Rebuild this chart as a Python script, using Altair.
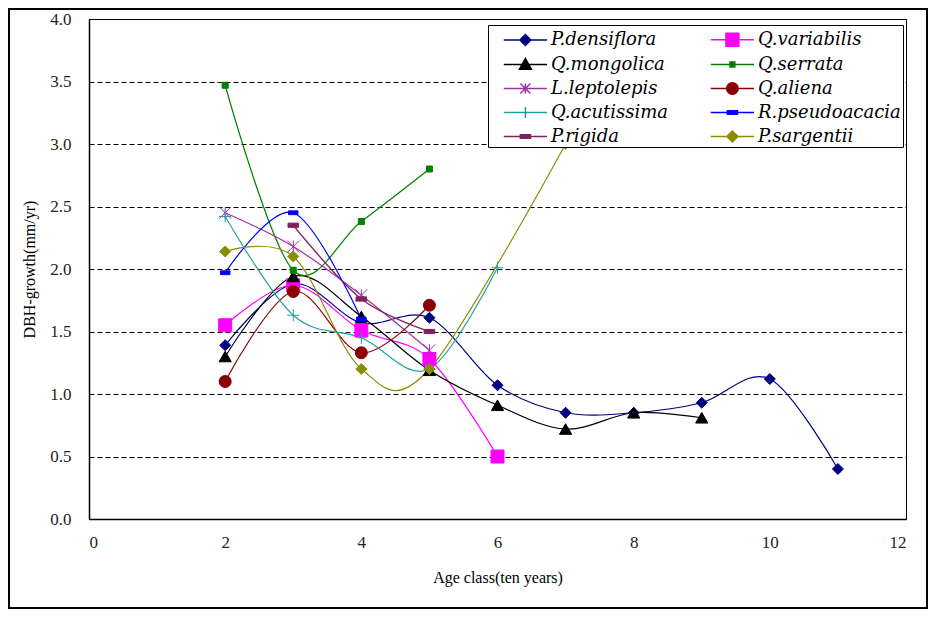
import json
import altair as alt
import pandas as pd

# ---------------- data ----------------
species = ["P.densiflora", "Q.variabilis", "Q.mongolica", "Q.serrata", "L.leptolepis",
           "Q.aliena", "Q.acutissima", "R.pseudoacacia", "P.rigida", "P.sargentii"]

p_densiflora_x = [2, 3, 4, 5, 6, 7, 8, 9, 10, 11]
p_densiflora_y = [1.39, 1.88, 1.57, 1.61, 1.07, 0.85, 0.85, 0.93, 1.12, 0.40]
q_variabilis_x = [2, 3, 4, 5, 6]
q_variabilis_y = [1.55, 1.87, 1.51, 1.28, 0.50]
q_mongolica_x = [2, 3, 4, 5, 6, 7, 8, 9]
q_mongolica_y = [1.30, 1.94, 1.62, 1.19, 0.91, 0.72, 0.85, 0.81]
q_serrata_x = [2, 3, 4, 5]
q_serrata_y = [3.47, 1.99, 2.38, 2.80]
l_leptolepis_x = [2, 3, 4, 5]
l_leptolepis_y = [2.45, 2.18, 1.79, 1.35]
q_aliena_x = [2, 3, 4, 5]
q_aliena_y = [1.10, 1.82, 1.33, 1.71]
q_acutissima_x = [2, 3, 4, 5, 6]
q_acutissima_y = [2.42, 1.63, 1.45, 1.20, 2.01]
r_pseudoacacia_x = [2, 3, 4]
r_pseudoacacia_y = [1.97, 2.45, 1.60]
p_rigida_x = [3, 4, 5]
p_rigida_y = [2.35, 1.76, 1.50]
p_sargentii_x = [2, 3, 4, 5, 7]
p_sargentii_y = [2.14, 2.10, 1.20, 1.20, 3.00]

x_ticks = [0, 2, 4, 6, 8, 10, 12]
y_ticks = [0.0, 0.5, 1.0, 1.5, 2.0, 2.5, 3.0, 3.5, 4.0]

series_xy = [
    (p_densiflora_x, p_densiflora_y), (q_variabilis_x, q_variabilis_y),
    (q_mongolica_x, q_mongolica_y), (q_serrata_x, q_serrata_y),
    (l_leptolepis_x, l_leptolepis_y), (q_aliena_x, q_aliena_y),
    (q_acutissima_x, q_acutissima_y), (r_pseudoacacia_x, r_pseudoacacia_y),
    (p_rigida_x, p_rigida_y), (p_sargentii_x, p_sargentii_y),
]

rows = []
for name, (xs, ys) in zip(species, series_xy):
    for xv, yv in zip(xs, ys):
        rows.append({"species": name, "age": xv, "growth": yv})
df = pd.DataFrame(rows)

# ---------------- styles ----------------
colors = ["#000080", "#FF00FF", "#000000", "#008000", "#A030A0",
          "#8B0000", "#20A0A0", "#0000FF", "#802060", "#8C8C00"]

ASTER = "M-1,-1L1,1M-1,1L1,-1M0,-1L0,1"
PLUS = "M-1,0L1,0M0,-1L0,1"
DASH = "M-1,-0.4L1,-0.4L1,0.4L-1,0.4Z"
plot_shapes = ["diamond", "square", "triangle-up", "square", ASTER,
               "circle", PLUS, DASH, DASH, "diamond"]
plot_sizes = [121, 169, 150, 36, 144, 144, 144, 90, 110, 121]
size_expr = json.dumps(dict(zip(species, plot_sizes))) + "[datum.species]"

# legend symbols: line segment + marker (unit = 12px)
L0, L1 = -2.6, 1.0
cx = (L0 + L1) / 2
LINE = f"M{L0},0L{L1},0"


def diamond(h):
    return f"M{cx-h:.3f},0L{cx:.3f},{-h}L{cx+h:.3f},0L{cx:.3f},{h}Z"


def square(h):
    return f"M{cx-h:.3f},{-h}L{cx+h:.3f},{-h}L{cx+h:.3f},{h}L{cx-h:.3f},{h}Z"


def triangle(h):
    return f"M{cx:.3f},{-h}L{cx+h:.3f},{h*0.8:.3f}L{cx-h:.3f},{h*0.8:.3f}Z"


def circle(r):
    return (f"M{cx-r:.3f},0A{r},{r} 0 1,0 {cx+r:.3f},0"
            f"A{r},{r} 0 1,0 {cx-r:.3f},0Z")


def aster(h):
    return (f"M{cx-h:.3f},{-h}L{cx+h:.3f},{h}M{cx-h:.3f},{h}L{cx+h:.3f},{-h}"
            f"M{cx:.3f},{-h}L{cx:.3f},{h}")


def plus(h):
    return f"M{cx-h:.3f},0L{cx+h:.3f},0M{cx:.3f},{-h}L{cx:.3f},{h}"


def dash(w, h):
    return f"M{cx-w:.3f},{-h}L{cx+w:.3f},{-h}L{cx+w:.3f},{h}L{cx-w:.3f},{h}Z"


legend_shapes = [LINE + p for p in [
    diamond(0.46), square(0.54), triangle(0.5), square(0.2), aster(0.42),
    circle(0.48), plus(0.46), dash(0.42, 0.15), dash(0.42, 0.15), diamond(0.46)]]

SERIF = "Liberation Serif"

base = alt.Chart(df)

x_enc = alt.X("age:Q", scale=alt.Scale(domain=[0, 12], nice=False),
              axis=alt.Axis(values=x_ticks, title="Age class(ten years)", grid=False,
                            ticks=False, labelPadding=15, titlePadding=19, format="d"))
y_enc = alt.Y("growth:Q", scale=alt.Scale(domain=[0, 4], nice=False),
              axis=alt.Axis(values=y_ticks, title="DBH-growth(mm/yr)", format=".1f",
                            ticks=False, labelPadding=18, titlePadding=12,
                            grid=True, gridColor="black", gridDash=[5, 3],
                            gridWidth=1, gridOpacity=1))

lines = base.mark_line(interpolate="cardinal", strokeWidth=1.2).encode(
    x=x_enc, y=y_enc,
    color=alt.Color("species:N", scale=alt.Scale(domain=species, range=colors), legend=None),
)

points = base.transform_calculate(sz=size_expr).mark_point(
    filled=True, opacity=1, strokeWidth=1
).encode(
    x=x_enc, y=y_enc,
    shape=alt.Shape("species:N", scale=alt.Scale(domain=species, range=plot_shapes), legend=None),
    color=alt.Color("species:N", scale=alt.Scale(domain=species, range=colors), legend=None),
    stroke=alt.Stroke("species:N", scale=alt.Scale(domain=species, range=colors), legend=None),
    size=alt.Size("sz:Q", scale=None, legend=None),
)

legend_layer = base.transform_filter("datum.age < 0").mark_point(
    filled=True, opacity=1, strokeWidth=1
).encode(
    x=x_enc, y=y_enc,
    shape=alt.Shape("species:N", scale=alt.Scale(domain=species, range=legend_shapes),
                    legend=alt.Legend(title=None, columns=2, orient="none", direction="horizontal",
                                      legendX=399, legendY=6,
                                      fillColor="white", strokeColor="black",
                                      padding=1.5, rowPadding=2, columnPadding=28,
                                      symbolSize=576, symbolOffset=32.5, labelOffset=3,
                                      labelFont="DejaVu Serif", labelFontStyle="italic",
                                      labelFontSize=18, labelColor="black",
                                      labelLimit=400)),
    color=alt.Color("species:N", scale=alt.Scale(domain=species, range=colors),
                    legend=alt.Legend(title=None)),
    stroke=alt.Stroke("species:N", scale=alt.Scale(domain=species, range=colors),
                      legend=alt.Legend(title=None)),
)

frame = alt.Chart(alt.Data(values=[{"f": 1}])).mark_rect(
    fillOpacity=0, stroke="black", strokeWidth=2
).encode(
    x=alt.value(-80), x2=alt.value(838), y=alt.value(-10), y2=alt.value(589)
)

chart = alt.layer(lines, points, legend_layer, frame).resolve_scale(
    color="independent", shape="independent", stroke="independent"
).resolve_legend(
    color="independent", shape="independent", stroke="independent"
).properties(
    width=817, height=500,
    autosize=alt.AutoSizeParams(type="none"),
    padding={"left": 81, "top": 11, "right": 23, "bottom": 91},
    background="white",
).configure_view(
    stroke="black", strokeWidth=1
).configure_axis(
    labelFont=SERIF, labelFontSize=17, labelColor="#222222",
    titleFont=SERIF, titleFontSize=16, titleFontWeight="normal", titleColor="black",
    domainColor="black", domainWidth=1.5,
)

chart.save("out.html", embed_options={"renderer": "svg", "actions": False})
